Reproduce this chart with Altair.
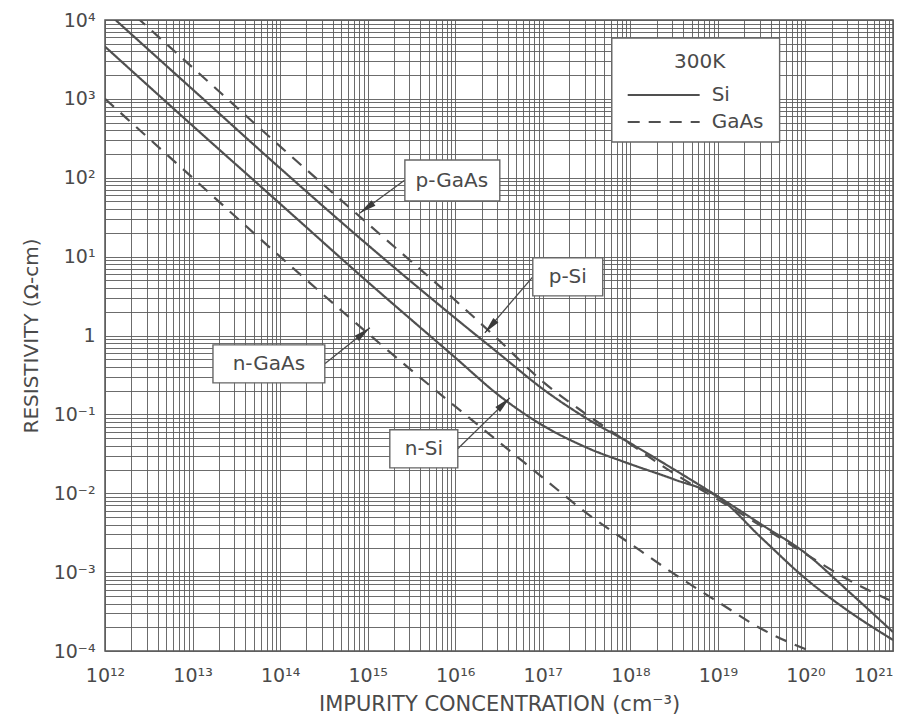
import altair as alt
import pandas as pd

# ---------------- data ----------------
conc_main = [1e12, 1e13, 1e14, 1e15, 1e16, 3.16e16, 1e17, 3.16e17, 1e18,
             3.16e18, 1e19, 3.16e19, 1e20, 3.16e20, 1e21]
n_si_rho = [4600, 457, 46.8, 4.79, 0.525, 0.174, 0.0724, 0.038, 0.0234,
            0.0150, 0.0090, 0.0027, 0.00083, 0.000316, 0.000138]
p_si_rho = [13200, 1320, 132, 14.1, 1.66, 0.59, 0.21, 0.089, 0.043,
            0.020, 0.0091, 0.0040, 0.00174, 0.00056, 0.000174]
p_gaas_rho = [25000, 2500, 250, 26.3, 2.8, 0.87, 0.26, 0.10, 0.042,
              0.0178, 0.0083, 0.0038, 0.0017, 0.00079, 0.00042]
n_gaas_conc = [1e12, 1e13, 1e14, 1e15, 1e16, 3.16e16, 1e17, 3.16e17, 1e18,
               3.16e18, 1e19, 3.16e19, 1.12e20]
n_gaas_rho = [1000, 100, 10, 1.07, 0.126, 0.0447, 0.0158, 0.0056, 0.00229,
              0.00095, 0.00042, 0.00019, 0.0001]

x_decades = [1e12, 1e13, 1e14, 1e15, 1e16, 1e17, 1e18, 1e19, 1e20, 1e21]
x_labels = ["10¹²", "10¹³", "10¹⁴", "10¹⁵", "10¹⁶", "10¹⁷", "10¹⁸", "10¹⁹", "10²⁰", "10²¹"]
y_decades = [1e-4, 1e-3, 1e-2, 1e-1, 1, 10, 100, 1000, 10000]
y_labels = ["10⁻⁴", "10⁻³", "10⁻²", "10⁻¹", "1", "10¹", "10²", "10³", "10⁴"]
grid_mults = [1, 2, 3, 4, 5, 6, 7, 8, 9]

# labels on the curves
label_text = ["p-GaAs", "p-Si", "n-GaAs", "n-Si"]
label_x = [9.14e15, 1.93e17, 7.45e13, 4.39e15]
label_y = [91, 5.53, 0.437, 0.0366]
box_x = [2.66e15, 7.69e16, 1.71e13, 1.79e15]
box_x2 = [3.23e16, 4.84e17, 3.24e14, 1.07e16]
box_y = [168, 9.64, 0.76, 0.0637]
box_y2 = [50.8, 3.18, 0.251, 0.021]
arrow_x = [2.66e15, 7.69e16, 3.24e14, 1.07e16]
arrow_y = [93.8, 5.53, 0.437, 0.0366]
arrow_x2 = [8.15e14, 2.18e16, 1.06e15, 4.2e16]
arrow_y2 = [35.8, 1.08, 1.25, 0.162]
arrow_angle = [234, 221, 51, 46]

# legend box
legend_title = "300K"
legend_names = ["Si", "GaAs"]

# ---------------- tables ----------------
rows = []
for name, mat, cs, rs in [("n-Si", "Si", conc_main, n_si_rho),
                          ("p-Si", "Si", conc_main, p_si_rho),
                          ("p-GaAs", "GaAs", conc_main, p_gaas_rho),
                          ("n-GaAs", "GaAs", n_gaas_conc, n_gaas_rho)]:
    for i, (c, r) in enumerate(zip(cs, rs)):
        rows.append({"curve": name, "material": mat, "N": c, "rho": r, "order": i})
curves = pd.DataFrame(rows)

x_grid = [m * d for d in x_decades[:-1] for m in grid_mults] + [x_decades[-1]]
y_grid = [m * d for d in y_decades[:-1] for m in grid_mults] + [y_decades[-1]]


def label_expr(values, labels):
    expr = "''"
    for v, l in reversed(list(zip(values, labels))):
        expr = f"datum.value == {v!r} ? '{l}' : ({expr})"
    return expr


FONT = "DejaVu Sans"
INK = "#4a4a4a"

xscale = alt.Scale(type="log", domain=[1e12, 1e21], nice=False)
yscale = alt.Scale(type="log", domain=[1e-4, 1e4], nice=False)

x_axis = alt.Axis(values=x_grid, labelExpr=label_expr(x_decades, x_labels),
                  grid=True, ticks=False, domain=False, labelOverlap=False,
                  labelFlush=False, labelPadding=15, labelFontSize=19,
                  labelAlign={"condition": {"test": "datum.value == 1e21", "value": "right"},
                              "value": "center"},
                  labelFont=FONT, labelColor=INK,
                  title="IMPURITY CONCENTRATION (cm⁻³)", titleFont=FONT,
                  titleFontSize=21, titleFontWeight="normal", titleColor=INK,
                  titlePadding=8)
y_axis = alt.Axis(values=y_grid, labelExpr=label_expr(y_decades, y_labels),
                  grid=True, ticks=False, domain=False, labelOverlap=False,
                  labelFlush=False, labelPadding=10, labelFontSize=19,
                  labelFont=FONT, labelColor=INK,
                  title="RESISTIVITY (Ω-cm)", titleFont=FONT,
                  titleFontSize=20, titleFontWeight="normal", titleColor=INK,
                  titlePadding=12)


def X(field):
    return alt.X(field, type="quantitative", scale=xscale, axis=x_axis)


def Y(field):
    return alt.Y(field, type="quantitative", scale=yscale, axis=y_axis)


lines = alt.Chart(curves).mark_line(clip=True, strokeWidth=2.2, color="#505050",
                                    interpolate="monotone").encode(
    x=X("N"), y=Y("rho"),
    detail="curve:N",
    order="order:Q",
    strokeDash=alt.StrokeDash("material:N",
                              scale=alt.Scale(domain=["Si", "GaAs"], range=[[1, 0], [12, 9]]),
                              legend=None),
)

ann = pd.DataFrame({"text": label_text, "lx": label_x, "ly": label_y,
                    "bx": box_x, "bx2": box_x2, "by": box_y, "by2": box_y2,
                    "ax": arrow_x, "ay": arrow_y, "ax2": arrow_x2, "ay2": arrow_y2,
                    "ang": arrow_angle})

base = alt.Chart(ann)
arrows = base.mark_rule(color=INK, strokeWidth=1.3).encode(
    x=X("ax"), y=Y("ay"), x2="ax2:Q", y2="ay2:Q")
heads = base.mark_point(shape="M0,0L0.3,1.5L-0.3,1.5Z", filled=True, color="#3a3a3a",
                        size=500, opacity=1).encode(
    x=X("ax2"), y=Y("ay2"), angle=alt.Angle("ang:Q", scale=None))
boxes = base.mark_rect(fill="white", stroke="#666", strokeWidth=1.4).encode(
    x=X("bx"), x2="bx2:Q", y=Y("by"), y2="by2:Q")
texts = base.mark_text(font=FONT, fontSize=20, color=INK).encode(
    x=X("lx"), y=Y("ly"), text="text:N")

# legend
leg_box_df = pd.DataFrame({"x": [6.14e17], "x2": [5.07e19], "y": [5916], "y2": [284]})
leg_box = alt.Chart(leg_box_df).mark_rect(fill="white", stroke="#666", strokeWidth=1.4).encode(
    x=X("x"), x2="x2:Q", y=Y("y"), y2="y2:Q")
leg_title_df = pd.DataFrame({"x": [6.19e18], "y": [2938], "t": [legend_title]})
leg_title = alt.Chart(leg_title_df).mark_text(font=FONT, fontSize=20, color=INK).encode(
    x=X("x"), y=Y("y"), text="t:N")
leg_rows = pd.DataFrame({"x": [9.33e17, 9.33e17], "x2": [6.19e18, 6.19e18],
                         "y": [1119, 509], "tx": [8.49e18, 8.49e18],
                         "name": legend_names})
leg_lines = alt.Chart(leg_rows).mark_rule(color="#505050", strokeWidth=2.2).encode(
    x=X("x"), x2="x2:Q", y=Y("y"),
    strokeDash=alt.StrokeDash("name:N",
                              scale=alt.Scale(domain=["Si", "GaAs"], range=[[1, 0], [9, 6]]),
                              legend=None))
leg_text = alt.Chart(leg_rows).mark_text(font=FONT, fontSize=20, color=INK, align="left").encode(
    x=X("tx"), y=Y("y"), text="name:N")

chart = alt.layer(lines, arrows, boxes, texts, heads, leg_box, leg_title, leg_lines, leg_text).properties(
    width=788, height=631,
    autosize=alt.AutoSizeParams(type="none"),
    padding={"left": 97, "top": 12, "right": 15, "bottom": 63},
    background="white",
).configure_view(stroke="#555", strokeWidth=1.5).configure_axis(
    gridColor="#5c5c5c", gridWidth=1, gridOpacity=0.9)

chart.save("out.html", embed_options={"renderer": "svg", "actions": False})
